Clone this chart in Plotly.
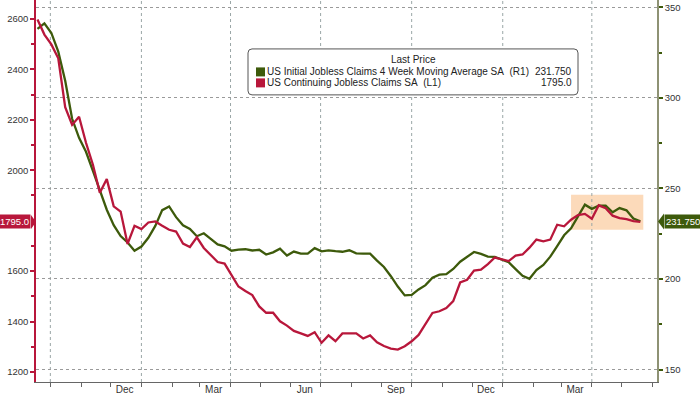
import plotly.graph_objects as go
import pandas as pd

# ---------------- data (weekly) ----------------
week_start = "2021-09-18"
n_weeks = 88
continuing_claims = [
    2598, 2538, 2499, 2444, 2250, 2180, 2212, 2109, 2022, 1911,
    1965, 1857, 1836, 1708, 1780, 1767, 1793, 1797, 1780, 1764,
    1757, 1709, 1696, 1734, 1692, 1663, 1636, 1630, 1586, 1539,
    1521, 1505, 1460, 1435, 1435, 1401, 1384, 1363, 1353, 1343,
    1358, 1316, 1345, 1322, 1353, 1353, 1353, 1333, 1345, 1318,
    1303, 1293, 1289, 1302, 1322, 1347, 1388, 1434, 1441, 1454,
    1481, 1555, 1566, 1602, 1606, 1628, 1654, 1648, 1640, 1662,
    1666, 1693, 1725, 1718, 1725, 1784, 1778, 1804, 1822, 1827,
    1808, 1861, 1850, 1820, 1810, 1806, 1798, 1795.0,
]
initial_claims_4wk = [
    338.0, 341.1, 335.8, 325.5, 309.4, 288.4, 277.9, 270.2, 259.7, 248.4,
    238.2, 229.7, 223.7, 220.1, 215.6, 217.9, 222.7, 229.3, 238.0, 240.0,
    234.1, 229.6, 227.6, 223.6, 225.2, 222.1, 219.1, 218.0, 215.6, 216.2,
    216.4, 215.7, 216.1, 213.5, 214.7, 216.7, 212.9, 215.1, 214.0, 214.0,
    217.0, 215.2, 215.8, 215.3, 215.0, 215.8, 214.1, 214.0, 214.0, 210.1,
    206.6, 201.5, 195.8, 190.9, 191.2, 194.2, 196.6, 200.7, 202.4, 202.6,
    205.5, 209.5, 212.1, 214.9, 213.8, 212.3, 212.2, 210.7, 209.2, 205.4,
    201.7, 200.1, 204.9, 207.7, 212.3, 218.1, 224.1, 227.9, 234.3, 241.0,
    238.7, 240.4, 240.5, 236.8, 239.1, 237.9, 233.4, 231.75,
]
month_tick_dates = ["2021-12-15", "2022-03-15", "2022-06-15", "2022-09-15",
                    "2022-12-15", "2023-03-15"]
month_tick_text = ["Dec", "Mar", "Jun", "Sep", "Dec", "Mar"]
quarter_grid_dates = ["2021-10-01", "2022-01-01", "2022-04-01", "2022-07-01",
                      "2022-10-01", "2023-01-01", "2023-04-01"]
left_tick_values = [1200, 1400, 1600, 2000, 2200, 2400, 2600]   # 1800 hidden under the tag
right_tick_values = [150, 200, 250, 300, 350]
highlight_range = ["2023-03-11", "2023-05-23"]
name_initial = "US Initial Jobless Claims 4 Week Moving Average SA  (R1)"
name_continuing = "US Continuing Jobless Claims SA  (L1)"
legend_header = "Last Price"

dates = pd.date_range(week_start, periods=n_weeks, freq="7D")

# ---------------- style / geometry ----------------
W, H = 700, 394
ML, MR, MT, MB = 36, 43, 0, 11.5
PW, PH = W - ML - MR, H - MT - MB
RED = "#b8173b"
GREEN = "#3d5a0b"
FONT = "Liberation Sans, Arial, sans-serif"
L_RANGE = [1160.4, 2675.2]
R_RANGE = [143.1, 354.0]


def px_x(p):
    return (p - ML) / PW


def px_y(p):
    return 1 - (p - MT) / PH


fig = go.Figure()
fig.add_trace(go.Scatter(x=dates, y=initial_claims_4wk, yaxis="y", mode="lines",
                         line=dict(color=GREEN, width=2.3), name=name_initial,
                         showlegend=False))
fig.add_trace(go.Scatter(x=dates, y=continuing_claims, yaxis="y2", mode="lines",
                         line=dict(color=RED, width=2.3), name=name_continuing,
                         showlegend=False))

shapes = []
# highlight box
shapes.append(dict(type="rect", xref="x", yref="paper", x0=highlight_range[0],
                   x1=highlight_range[1], y0=px_y(230), y1=px_y(195),
                   fillcolor="#fbd3ae", opacity=0.85, line=dict(width=0), layer="below"))
# vertical quarter gridlines
for d in quarter_grid_dates:
    shapes.append(dict(type="line", xref="x", yref="paper", x0=d, x1=d, y0=0, y1=1,
                       line=dict(color="#9aa6a6", width=1, dash="dot"), layer="below"))

# value tag arrows
l_units_per_px = (L_RANGE[1] - L_RANGE[0]) / PH
r_units_per_px = (R_RANGE[1] - R_RANGE[0]) / PH
lv = continuing_claims[-1]
rv = initial_claims_4wk[-1]
shapes.append(dict(type="path", xref="paper", yref="y2", fillcolor=RED, line=dict(width=0),
                   path=f"M {px_x(31)},{lv + 7 * l_units_per_px} L {px_x(36)},{lv} "
                        f"L {px_x(31)},{lv - 7 * l_units_per_px} Z"))
shapes.append(dict(type="path", xref="paper", yref="y", fillcolor=GREEN, line=dict(width=0),
                   path=f"M {px_x(664)},{rv + 8 * r_units_per_px} L {px_x(658)},{rv} "
                        f"L {px_x(664)},{rv - 8 * r_units_per_px} Z"))

# legend box (rounded)
bx0, bx1, by0, by1, rr = 248, 578, 49, 95, 4
p = (f"M {px_x(bx0 + rr)},{px_y(by0)} L {px_x(bx1 - rr)},{px_y(by0)} "
     f"Q {px_x(bx1)},{px_y(by0)} {px_x(bx1)},{px_y(by0 + rr)} "
     f"L {px_x(bx1)},{px_y(by1 - rr)} Q {px_x(bx1)},{px_y(by1)} {px_x(bx1 - rr)},{px_y(by1)} "
     f"L {px_x(bx0 + rr)},{px_y(by1)} Q {px_x(bx0)},{px_y(by1)} {px_x(bx0)},{px_y(by1 - rr)} "
     f"L {px_x(bx0)},{px_y(by0 + rr)} Q {px_x(bx0)},{px_y(by0)} {px_x(bx0 + rr)},{px_y(by0)} Z")
shapes.append(dict(type="path", xref="paper", yref="paper", path=p, fillcolor="white",
                   line=dict(color="#555555", width=1)))
shapes.append(dict(type="rect", xref="paper", yref="paper", x0=px_x(256), x1=px_x(265),
                   y0=px_y(76.5), y1=px_y(67.5), fillcolor=GREEN, line=dict(width=0)))
shapes.append(dict(type="rect", xref="paper", yref="paper", x0=px_x(256), x1=px_x(265),
                   y0=px_y(87.5), y1=px_y(78.5), fillcolor=RED, line=dict(width=0)))

LEG_FONT = dict(family=FONT, size=10, color="#222")
annotations = [
    dict(xref="paper", yref="paper", x=px_x((bx0 + bx1) / 2), y=px_y(60), text=legend_header,
         showarrow=False, xanchor="center", yanchor="middle", font=LEG_FONT),
    dict(xref="paper", yref="paper", x=px_x(265), y=px_y(72),
         text=name_initial.replace("  ", "&nbsp; "), showarrow=False, xanchor="left",
         yanchor="middle", font=LEG_FONT),
    dict(xref="paper", yref="paper", x=px_x(265), y=px_y(83),
         text=name_continuing.replace("  ", "&nbsp; "), showarrow=False, xanchor="left",
         yanchor="middle", font=LEG_FONT),
    dict(xref="paper", yref="paper", x=px_x(bx1 - 4), y=px_y(72), text=f"{rv:.3f}",
         showarrow=False, xanchor="right", yanchor="middle", font=LEG_FONT),
    dict(xref="paper", yref="paper", x=px_x(bx1 - 4), y=px_y(83), text=f"{lv:.1f}",
         showarrow=False, xanchor="right", yanchor="middle", font=LEG_FONT),
    # value tags
    dict(xref="paper", yref="y2", x=px_x(31), y=lv, text=f"{lv:.1f}", showarrow=False,
         xanchor="right", yanchor="middle", bgcolor=RED, borderpad=1,
         font=dict(family=FONT, size=9.5, color="white")),
    dict(xref="paper", yref="y", x=px_x(664), y=rv, text=f"{rv:.3f}", showarrow=False,
         xanchor="left", yanchor="middle", bgcolor=GREEN, borderpad=1,
         font=dict(family=FONT, size=9.5, color="white")),
]

fig.update_layout(
    width=W, height=H,
    margin=dict(l=ML, r=MR, t=MT, b=MB, pad=0),
    paper_bgcolor="white", plot_bgcolor="white",
    font=dict(family=FONT, size=10, color="#333"),
    showlegend=False,
    shapes=shapes, annotations=annotations,
    xaxis=dict(type="date", range=["2021-09-16 12:00", "2023-06-05 20:00"],
               tickvals=month_tick_dates, ticktext=month_tick_text, ticks="", ticklen=0,
               showgrid=False, zeroline=False, showline=True, linecolor="#666", linewidth=1,
               tickfont=dict(family=FONT, size=10, color="#333"), automargin=False,
               ticklabelstandoff=-2,
               minor=dict(ticks="outside", dtick="M1", tick0="2021-01-01", ticklen=4,
                          tickcolor="#666", tickwidth=1, showgrid=False)),
    yaxis=dict(side="right", range=R_RANGE, tickvals=right_tick_values,
               showgrid=True, gridcolor="#9a9a9a", griddash="dot", gridwidth=1,
               zeroline=False, showline=True, linecolor="#8e9274", linewidth=1.5,
               ticks="outside", ticklen=4, tickwidth=2, tickcolor=GREEN,
               tickfont=dict(family=FONT, size=9.5, color="#333"), automargin=False,
               minor=dict(ticks="outside", dtick=25, tick0=0, ticklen=3, tickcolor=GREEN,
                          showgrid=False)),
    yaxis2=dict(side="left", overlaying="y", range=L_RANGE, tickvals=left_tick_values,
                showgrid=False, zeroline=False, showline=True, linecolor=RED, linewidth=1.5,
                ticks="outside", ticklen=4, tickwidth=2, tickcolor=RED,
                tickfont=dict(family=FONT, size=9.5, color="#333"), automargin=False,
                minor=dict(ticks="outside", dtick=100, tick0=0, ticklen=3, tickcolor=RED,
                           showgrid=False)),
)

fig.write_html("out.html", config={"displayModeBar": False},
               post_script="document.body.style.margin='0px';")
